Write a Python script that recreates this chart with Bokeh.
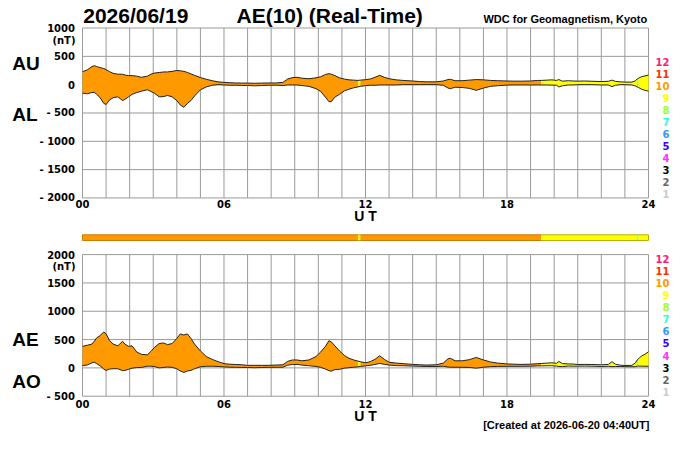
import numpy as np
from bokeh.plotting import figure
from bokeh.models import Range1d
from bokeh.embed import file_html
from bokeh.resources import INLINE
from bokeh.core.properties import value

# ---------------- data ----------------
ut_hours = [0.0, 0.2, 0.4, 0.5, 0.6, 0.75, 0.9, 1.0, 1.15, 1.3, 1.5, 1.7, 1.8, 1.95, 2.1, 2.3, 2.5, 2.75,
            2.9, 3.05, 3.25, 3.45, 3.6, 3.8, 4.0, 4.15, 4.3, 4.45, 4.6, 4.75, 5.0, 5.25, 5.5, 5.75, 6.0,
            6.25, 6.5, 6.75, 7.0, 7.3, 7.6, 7.9, 8.2, 8.5, 8.7, 8.9, 9.1, 9.3, 9.6, 9.9, 10.1, 10.3, 10.45,
            10.55, 10.7, 10.9, 11.1, 11.3, 11.5, 11.68, 11.78, 12.0, 12.2, 12.4, 12.6, 12.8, 13.0, 13.3,
            13.6, 14.0, 14.3, 14.6, 15.0, 15.3, 15.5, 15.6, 15.8, 16.1, 16.4, 16.7, 17.0, 17.3, 17.6, 18.0,
            18.3, 18.6, 19.0, 19.3, 19.45, 19.7, 19.9, 20.1, 20.2, 20.35, 20.6, 20.8, 21.0, 21.3, 21.6,
            22.0, 22.3, 22.45, 22.6, 22.8, 23.0, 23.3, 23.45, 23.52, 23.58, 23.7, 23.85, 24.0]

au_nT = [230, 260, 320, 335, 320, 300, 285, 265, 230, 200, 185, 185, 170, 160, 160, 150, 130, 150,
         185, 205, 215, 225, 225, 235, 250, 245, 235, 215, 190, 165, 125, 95, 70, 50, 40,
         35, 30, 28, 28, 25, 28, 30, 30, 40, 100, 125, 130, 115, 105, 120, 140, 180, 195,
         185, 160, 120, 100, 85, 80, 75, 80, 88, 100, 130, 165, 130, 105, 85,
         75, 65, 55, 50, 50, 65, 90, 95, 70, 70, 80, 90, 85, 75, 70, 65,
         62, 62, 65, 75, 75, 80, 85, 75, 90, 62, 70, 65, 62, 65, 60,
         55, 60, 80, 58, 50, 45, 45, 70, 100, 115, 140, 155, 170]

al_nT = [-150, -160, -140, -135, -170, -230, -330, -350, -270, -230, -215, -280, -260, -215, -170, -140, -115, -90,
         -120, -150, -215, -210, -190, -215, -280, -360, -400, -330, -280, -200, -90, -40, -10, 0, -5,
         -10, -10, -15, -15, -20, -15, -10, -10, -15, -5, -5, -5, -15, -30, -70, -120, -220, -300,
         -300, -220, -170, -110, -80, -55, -40, -30, -18, -10, -10, -5, -5, -5, -5,
         0, 0, 0, 0, 0, -10, -60, -70, -45, -50, -65, -100, -60, -30, -18, -8,
         -5, -5, -6, -5, -5, -5, -8, -10, -40, -20, -5, -5, 0, 0, 0,
         -5, -5, -35, -10, 0, 0, -5, -25, -40, -50, -80, -100, -115]

ae_nT = [380, 400, 420, 470, 530, 570, 635, 600, 480, 420, 390, 470, 420, 380, 390, 280, 240, 230,
         290, 360, 430, 440, 410, 430, 520, 600, 580, 600, 520, 420, 300, 200, 150, 110, 75,
         65, 60, 55, 45, 45, 45, 45, 50, 55, 115, 140, 140, 125, 140, 200, 280, 380, 480,
         460, 390, 300, 220, 170, 140, 120, 110, 90, 110, 150, 215, 150, 100, 85,
         75, 62, 55, 50, 55, 85, 160, 170, 125, 125, 145, 185, 140, 105, 85, 70,
         65, 62, 65, 75, 78, 85, 90, 80, 115, 75, 70, 68, 60, 62, 60,
         55, 62, 110, 65, 48, 42, 45, 90, 140, 160, 210, 240, 285]

ao_nT = [40, 50, 90, 100, 75, 35, -20, -45, -20, -15, -15, -50, -45, -25, -5, 5, 8, 30,
         30, 25, 0, 8, 15, 10, -15, -55, -80, -55, -45, -15, 20, 28, 30, 25, 18,
         12, 10, 7, 7, 3, 7, 10, 10, 12, 48, 60, 62, 50, 38, 25, 10, -20, -50,
         -58, -30, -25, -5, 3, 12, 18, 25, 35, 45, 60, 80, 62, 50, 40,
         38, 32, 28, 25, 25, 28, 15, 12, 12, 10, 8, -5, 12, 22, 26, 28,
         28, 28, 30, 35, 35, 38, 38, 32, 25, 22, 32, 30, 31, 32, 30,
         25, 28, 22, 24, 25, 22, 20, 22, 30, 32, 30, 30, 28]

# number of contributing stations over time
seg_start = [0.0, 11.68, 11.78, 19.45, 23.52, 23.58]
seg_end = [11.68, 11.78, 19.45, 23.52, 23.58, 24.0]
seg_count = [10, 9, 10, 9, 8, 9]

station_numbers = [12, 11, 10, 9, 8, 7, 6, 5, 4, 3, 2, 1]
station_colors = {12: "#ff1a75", 11: "#ff3300", 10: "#ff9900", 9: "#ffff00", 8: "#99ff33",
                  7: "#33ffcc", 6: "#3399ff", 5: "#3300ff", 4: "#ff33ff", 3: "#000000",
                  2: "#666666", 1: "#cccccc"}
bar_edge_colors = {10: "#cc7a00", 9: "#b3b300", 8: "#77b300"}

hour_ticks = [0, 6, 12, 18, 24]
hour_labels = ["00", "06", "12", "18", "24"]
grid_hours = list(range(0, 25))
au_al_ticks = [1000, 500, 0, -500, -1000, -1500, -2000]
au_al_labels = ["1000", "500", "0", "- 500", "- 1000", "- 1500", "- 2000"]
ae_ao_ticks = [2000, 1500, 1000, 500, 0, -500]
ae_ao_labels = ["2000", "1500", "1000", "500", "0", "- 500"]

title_date = "2026/06/19"
title_main = "AE(10) (Real-Time)"
credit = "WDC for Geomagnetism, Kyoto"
created = "[Created at 2026-06-20 04:40UT]"

# ---------------- figure ----------------
t = np.array(ut_hours, dtype=float)
au = np.array(au_nT, dtype=float)
al = np.array(al_nT, dtype=float)
ae = np.array(ae_nT, dtype=float)
ao = np.array(ao_nT, dtype=float)

# the plot frame covers the whole canvas; the two panels share one nT scale:
# the upper (AU/AL) panel uses the default range, the lower (AE/AO) panel an extra range
p = figure(width=684, height=434, x_range=Range1d(-3.477, 25.527), y_range=Range1d(-6176, 1486),
           output_backend="svg", toolbar_location=None, x_axis_location=None, y_axis_location=None,
           min_border_left=0, min_border_right=0, min_border_top=0, min_border_bottom=0,
           title_location=None)
p.extra_y_ranges = {"ae": Range1d(-1176, 6486)}
p.grid.visible = False
p.outline_line_color = None
p.background_fill_color = "white"
p.border_fill_color = "white"

GRID = "#9a9a9a"
SMALL_FONT = "DejaVu Sans"
BIG_FONT = "Liberation Sans"


def txt(x, y, text, size, font=BIG_FONT, align="left", baseline="middle", color="black", rng=None):
    kw = {} if rng is None else {"y_range_name": rng}
    n = len(text)
    p.text(x=x, y=y, text=text, text_font=value(font), text_font_style="bold",
           text_font_size=size, text_align=align, text_baseline=baseline,
           text_color=color if isinstance(color, list) else [color] * n, **kw)


# grids / panel frames
for rng, ticks in ((None, au_al_ticks), ("ae", ae_ao_ticks)):
    kw = {} if rng is None else {"y_range_name": rng}
    lo, hi = min(ticks), max(ticks)
    p.segment(x0=grid_hours, y0=[lo] * len(grid_hours), x1=grid_hours, y1=[hi] * len(grid_hours),
              line_color=GRID, line_width=1, **kw)
    p.segment(x0=[0] * len(ticks), y0=ticks, x1=[24] * len(ticks), y1=ticks,
              line_color=GRID, line_width=1, **kw)

# fills coloured by station count
for s, e, c in zip(seg_start, seg_end, seg_count):
    m = (t >= s) & (t <= e)
    p.varea(x=t[m], y1=al[m], y2=au[m], fill_color=station_colors[c])
    p.varea(x=t[m], y1=ao[m], y2=ae[m], fill_color=station_colors[c], y_range_name="ae")

LINE = "#222222"
p.line(t, au, line_color=LINE, line_width=1)
p.line(t, al, line_color=LINE, line_width=1)
p.line(t, ae, line_color=LINE, line_width=1, y_range_name="ae")
p.line(t, ao, line_color=LINE, line_width=1, y_range_name="ae")

# station-count bar between the panels
bar_lo, bar_hi = -2751, -2651
nseg = len(seg_start)
p.quad(left=seg_start, right=seg_end, bottom=[bar_lo] * nseg, top=[bar_hi] * nseg,
       fill_color=[station_colors[c] for c in seg_count], line_color=None)
edge_cols = [bar_edge_colors[c] for c in seg_count]
p.segment(x0=seg_start, y0=[bar_hi] * nseg, x1=seg_end, y1=[bar_hi] * nseg, line_color=edge_cols, line_width=1)
p.segment(x0=seg_start, y0=[bar_lo] * nseg, x1=seg_end, y1=[bar_lo] * nseg, line_color=edge_cols, line_width=1)
p.segment(x0=[seg_start[0], seg_end[-1]], y0=[bar_lo, bar_lo], x1=[seg_start[0], seg_end[-1]],
          y1=[bar_hi, bar_hi], line_color=[edge_cols[0], edge_cols[-1]], line_width=1)

# tick labels (y): upper and lower panel
txt([-0.318] * len(au_al_ticks), au_al_ticks, au_al_labels, "10px", font=SMALL_FONT, align="right")
txt([-0.318] * len(ae_ao_ticks), ae_ao_ticks, ae_ao_labels, "10px", font=SMALL_FONT, align="right", rng="ae")
txt([-0.297], [788], ["(nT)"], "10px", font=SMALL_FONT, align="right")
txt([-0.297], [1793], ["(nT)"], "10px", font=SMALL_FONT, align="right", rng="ae")

# tick labels (x) and UT under each panel
txt(hour_ticks, [-2107] * len(hour_ticks), hour_labels, "10px", font=SMALL_FONT, align="center")
txt([12], [-2322], ["U T"], "14px", align="center")
txt(hour_ticks, [-637] * len(hour_ticks), hour_labels, "10px", font=SMALL_FONT, align="center", rng="ae")
txt([12], [-853], ["U T"], "14px", align="center", rng="ae")

# titles and panel names
txt([0.03], [1229], [title_date], "21px")
txt([6.53], [1229], [title_main], "21px")
txt([23.945], [1168], [credit], "11px", align="right")
txt([-2.981, -2.981], [368, -527], ["AU", "AL"], "19px")
txt([-2.981, -2.981], [496, -249], ["AE", "AO"], "19px", rng="ae")
txt([24.04], [-1017], [created], "11px", align="right", rng="ae")

# station-count colour key (right of each panel)
nkey = len(station_numbers)
key_cols = [station_colors[n] for n in station_numbers]
key_txt = [str(n) for n in station_numbers]
txt([24.89] * nkey, [409 - 212 * i for i in range(nkey)], key_txt, "10px", font=SMALL_FONT,
    align="right", color=key_cols)
txt([24.89] * nkey, [1926 - 213.6 * i for i in range(nkey)], key_txt, "10px", font=SMALL_FONT,
    align="right", color=key_cols, rng="ae")

open("out.html", "w").write(file_html(p, INLINE))
